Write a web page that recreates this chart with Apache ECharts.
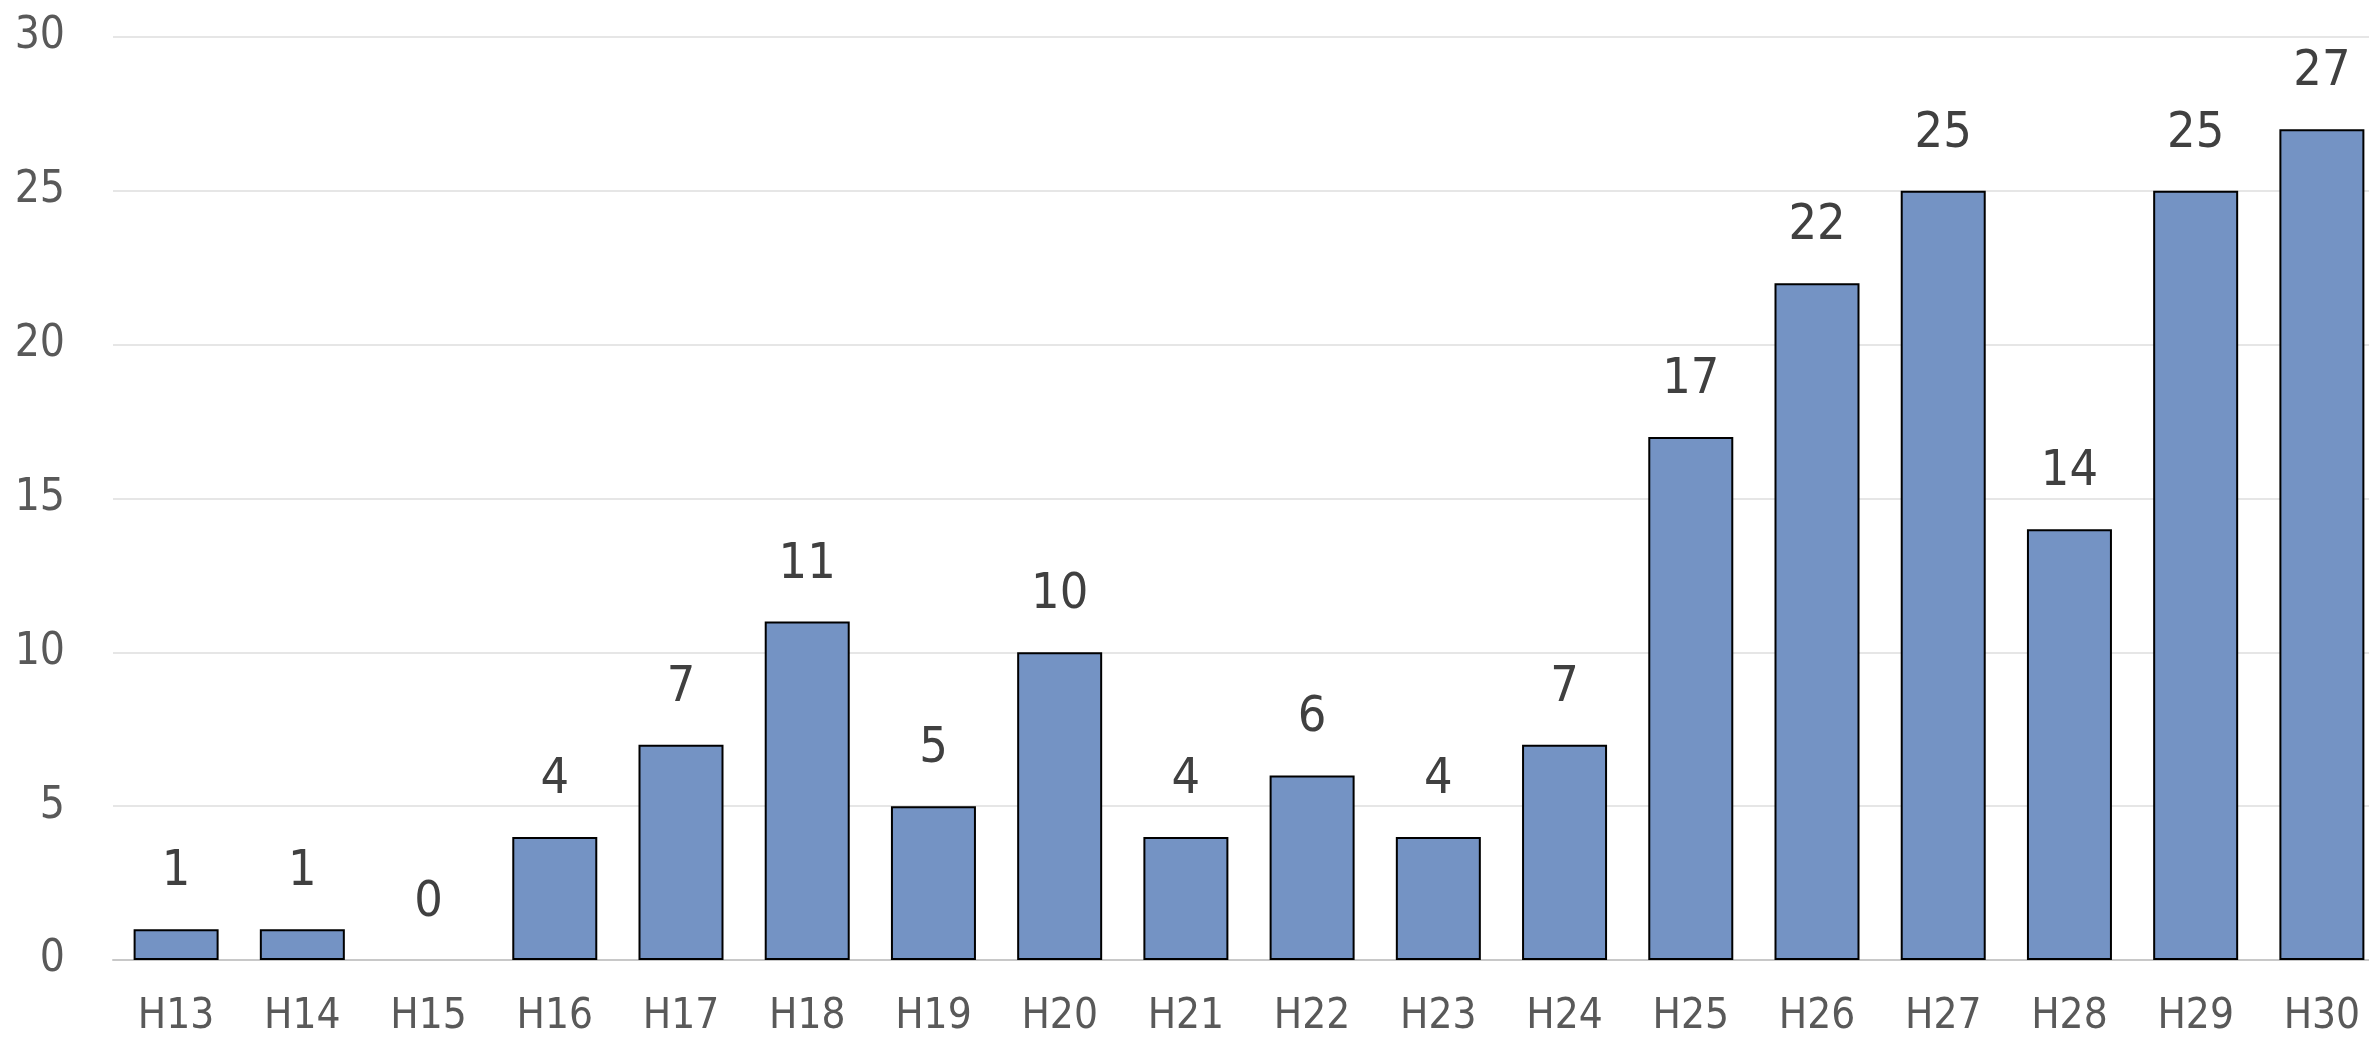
<!DOCTYPE html>
<html>
<head>
<meta charset="utf-8">
<script src="https://cdn.jsdelivr.net/npm/echarts@6/dist/echarts.min.js"></script>
<style>
html,body{margin:0;padding:0;background:#fff;}
#c{width:2369px;height:1041px;}
</style>
</head>
<body>
<div id="c"></div>
<script>
const categories = ['H13','H14','H15','H16','H17','H18','H19','H20','H21','H22','H23','H24','H25','H26','H27','H28','H29','H30'];
const values = [1,1,0,4,7,11,5,10,4,6,4,7,17,22,25,14,25,27];
const yTicks = {min:0, max:30, interval:5};
const FONT = "'DejaVu Sans Condensed', 'DejaVu Sans', sans-serif";

const chart = echarts.init(document.getElementById('c'));
chart.setOption({
  animation:false,
  backgroundColor:'#fff',
  grid:{left:113, right:-16, top:37, bottom:81, containLabel:false, outerBoundsMode:'none'},
  xAxis:{
    type:'category', data:categories,
    axisLine:{show:true, lineStyle:{color:'#c8c8c8', width:2}},
    axisTick:{show:false},
    axisLabel:{color:'#595959', fontFamily:FONT, fontSize:42, margin:36}
  },
  yAxis:{
    type:'value', min:yTicks.min, max:yTicks.max, interval:yTicks.interval,
    axisLine:{show:false}, axisTick:{show:false},
    splitLine:{lineStyle:{color:'#e6e6e6', width:2}},
    axisLabel:{color:'#595959', fontFamily:FONT, fontSize:44, margin:48}
  },
  series:[{
    type:'bar',
    data:values.map(v => v === 0 ? {value:v, itemStyle:{borderWidth:0}} : v),
    barWidth:85,
    itemStyle:{color:'#7493C4', borderColor:'#000', borderWidth:2},
    label:{show:true, position:'top', distance:32, color:'#404040', fontFamily:FONT, fontSize:50}
  }]
});
</script>
</body>
</html>
